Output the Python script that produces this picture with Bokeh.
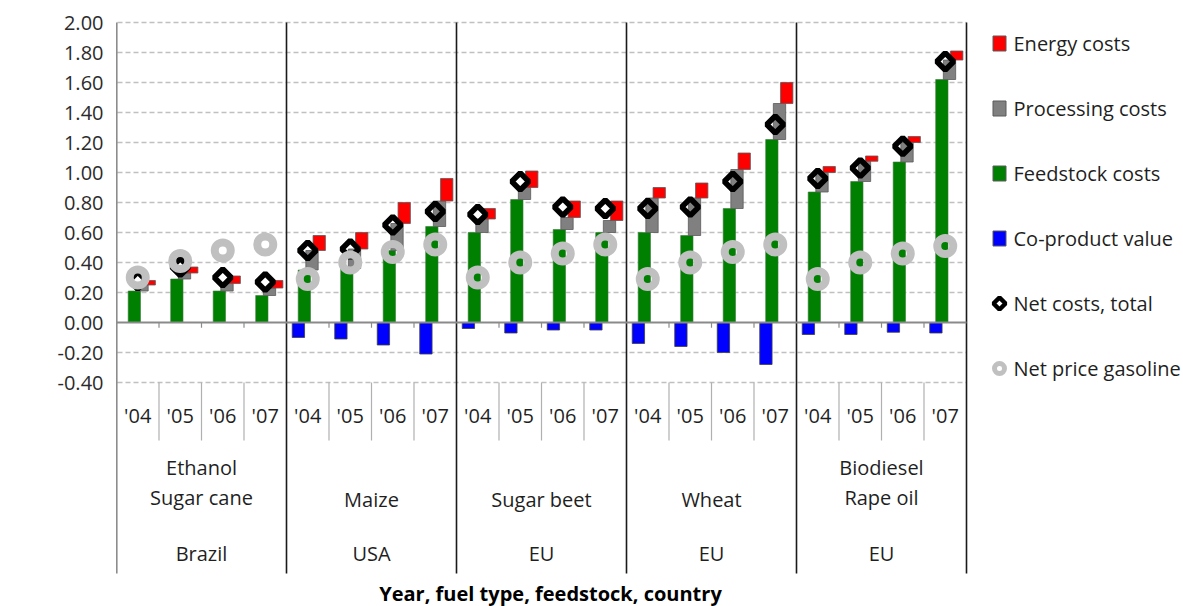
import math
from bokeh.plotting import figure
from bokeh.models import Range1d, FixedTicker, PrintfTickFormatter, Label
from bokeh.core.properties import value
from bokeh.embed import file_html
from bokeh.resources import INLINE

# ---------------- data ----------------
years = ["'04", "'05", "'06", "'07"]
group_lines = [["Ethanol", "Sugar cane"], ["Maize"], ["Sugar beet"], ["Wheat"], ["Biodiesel", "Rape oil"]]
countries = ["Brazil", "USA", "EU", "EU", "EU"]

feedstock = [0.21, 0.29, 0.21, 0.18,
             0.35, 0.36, 0.48, 0.64,
             0.60, 0.82, 0.62, 0.60,
             0.60, 0.58, 0.76, 1.22,
             0.87, 0.94, 1.07, 1.62]
processing = [0.04, 0.04, 0.05, 0.05,
              0.13, 0.13, 0.18, 0.17,
              0.09, 0.08, 0.08, 0.08,
              0.23, 0.25, 0.26, 0.24,
              0.13, 0.135, 0.13, 0.13]
energy = [0.03, 0.04, 0.05, 0.05,
          0.10, 0.11, 0.14, 0.15,
          0.07, 0.11, 0.11, 0.13,
          0.07, 0.10, 0.11, 0.14,
          0.04, 0.035, 0.04, 0.06]
coproduct = [0.0, 0.0, 0.0, 0.0,
             -0.10, -0.11, -0.15, -0.21,
             -0.04, -0.07, -0.05, -0.05,
             -0.14, -0.16, -0.20, -0.28,
             -0.08, -0.08, -0.065, -0.07]
net_costs = [0.28, 0.37, 0.30, 0.27,
             0.48, 0.49, 0.65, 0.74,
             0.72, 0.94, 0.77, 0.76,
             0.76, 0.77, 0.94, 1.32,
             0.96, 1.03, 1.175, 1.74]
gasoline = [0.30, 0.41, 0.48, 0.52,
            0.29, 0.40, 0.47, 0.52,
            0.30, 0.40, 0.46, 0.52,
            0.29, 0.40, 0.47, 0.52,
            0.29, 0.40, 0.46, 0.51]

series_names = ["Energy costs", "Processing costs", "Feedstock costs",
                "Co-product value", "Net costs, total", "Net price gasoline"]
y_ticks = [round(-0.4 + 0.2 * k, 2) for k in range(13)]

# ---------------- style ----------------
C_RED, C_GREY, C_GREEN, C_BLUE = "#ff0000", "#808080", "#008000", "#0000ff"
C_RING = "#c0c0c0"
FONT = "Open Sans"
TXT = "#1f1f1f"

n_groups = len(group_lines)
n_years = len(years)
n_cat = n_groups * n_years
xc = [i + 0.5 for i in range(n_cat)]

PX_X = 42.5   # pixels per category
PX_Y = 150.0  # pixels per unit
W, H = 1183, 606
LEFT = 116
TOP0 = 22     # pixel position of the 2.00 gridline
frame_w = W - LEFT
y_end = 2.0 + TOP0 / PX_Y
y_start = y_end - H / PX_Y


def px_x(px):
    return (px - LEFT) / PX_X


def px_y(py):
    return y_end - py / PX_Y


p = figure(width=W, height=H, output_backend="svg", toolbar_location=None,
           x_range=Range1d(0, frame_w / PX_X), y_range=Range1d(y_start, y_end),
           x_axis_location=None, min_border_left=LEFT, min_border_right=0,
           min_border_top=0, min_border_bottom=0)
p.outline_line_color = None
p.xgrid.visible = False
p.ygrid.visible = False

ax = p.yaxis[0]
ax.ticker = FixedTicker(ticks=y_ticks)
ax.formatter = PrintfTickFormatter(format="%.2f")
ax.axis_line_color = None
ax.major_tick_line_color = None
ax.minor_tick_line_color = None
ax.major_tick_out = 0
ax.major_tick_in = 0
ax.major_label_standoff = 13
ax.major_label_text_font = FONT
ax.major_label_text_font_size = "20px"
ax.major_label_text_color = "#2b2b2b"

# gridlines (dashed), including the tick stubs left of the axis
grid_vals = [t for t in y_ticks if t != 0]
p.segment(x0=[-7 / PX_X] * len(grid_vals), x1=[n_cat] * len(grid_vals),
          y0=grid_vals, y1=grid_vals, line_color="#c0c0c0", line_width=1.4,
          line_dash="5 3")

# year separators below plot and small ticks at zero line
seps = [k for k in range(1, n_cat) if k % n_years != 0]
p.segment(x0=seps, x1=seps, y0=[-0.4] * len(seps), y1=[px_y(440)] * len(seps),
          line_color="#b0b0b0", line_width=1.2)
p.segment(x0=seps, x1=seps, y0=[0] * len(seps), y1=[-0.035] * len(seps),
          line_color="#8c8c8c", line_width=1.2)

# group dividers
divs = [g * n_years for g in range(n_groups + 1)]
p.segment(x0=divs, x1=divs, y0=[2.0] * len(divs), y1=[px_y(573)] * len(divs),
          line_color="#1a1a1a", line_width=1.6)

# bars
BW = 0.29
proc_bottom = feedstock
proc_top = [f + q for f, q in zip(feedstock, processing)]
en_top = [t + e for t, e in zip(proc_top, energy)]
p.vbar(x=[x - 0.08 for x in xc], width=BW, bottom=0, top=feedstock,
       fill_color=C_GREEN, line_color="#3c7a3c", line_width=0.6)
p.vbar(x=[x + 0.10 for x in xc], width=BW, bottom=proc_bottom, top=proc_top,
       fill_color=C_GREY, line_color="#5a5a5a", line_width=0.8)
p.vbar(x=[x + 0.27 for x in xc], width=BW, bottom=proc_top, top=en_top,
       fill_color=C_RED, line_color="#5a5a5a", line_width=0.8)
p.vbar(x=[x - 0.22 for x in xc], width=BW, bottom=0, top=coproduct,
       fill_color=C_BLUE, line_color="#404040", line_width=0.8)

# zero line
p.segment(x0=[0], x1=[n_cat], y0=[0], y1=[0], line_color="#8a8a8a", line_width=2)

# markers
p.scatter(x=xc, y=net_costs, marker="square", angle=math.pi / 4, size=12,
          line_width=5.5, line_color="black", fill_color=None)
p.scatter(x=xc, y=gasoline, marker="circle", size=16, line_width=8,
          line_color=C_RING, fill_color=None)

# category labels
tf = dict(text_font=value(FONT), text_font_size="20px", text_color=TXT,
          text_align="center", text_baseline="middle")
p.text(x=xc, y=[px_y(415)] * n_cat, text=years * n_groups, **tf)

gx, gy, gt = [], [], []
for g, lines in enumerate(group_lines):
    cx = g * n_years + n_years / 2
    if len(lines) == 2:
        gx += [cx, cx]; gy += [px_y(467), px_y(497)]; gt += lines
    else:
        gx.append(cx); gy.append(px_y(499)); gt.append(lines[0])
    gx.append(cx); gy.append(px_y(553)); gt.append(countries[g])
p.text(x=gx, y=gy, text=gt, **tf)

p.text(x=[px_x(550)], y=[px_y(593)], text=["Year, fuel type, feedstock, country"],
       text_font=value(FONT), text_font_size="20px", text_font_style="bold",
       text_color="black", text_align="center", text_baseline="middle")

# legend (drawn inside the wide frame)
lx = px_x(999)
tx = px_x(1013)
ly = [px_y(43 + 65 * k) for k in range(6)]
p.rect(x=[lx] * 4, y=ly[:4], width=13, height=15, width_units="screen",
       height_units="screen", fill_color=[C_RED, C_GREY, C_GREEN, C_BLUE],
       line_color="#5a5a5a", line_width=1)
p.scatter(x=[lx], y=[ly[4]], marker="square", angle=math.pi / 4, size=8.5,
          line_width=4.5, line_color="black", fill_color=None)
p.scatter(x=[lx], y=[ly[5]], marker="circle", size=10, line_width=5,
          line_color=C_RING, fill_color=None)
p.text(x=[tx] * 6, y=ly, text=series_names, text_font=value(FONT),
       text_font_size="20px", text_color=TXT, text_align="left",
       text_baseline="middle")

# y-axis title
p.add_layout(Label(x=px_x(22), y=px_y(202), text="US$ per litre of gasoline equivalent",
                   angle=math.pi / 2, text_align="center", text_baseline="middle",
                   text_font=FONT, text_font_size="17.5px", text_font_style="bold",
                   text_color="black"))

open("out.html", "w").write(file_html(p, INLINE))
